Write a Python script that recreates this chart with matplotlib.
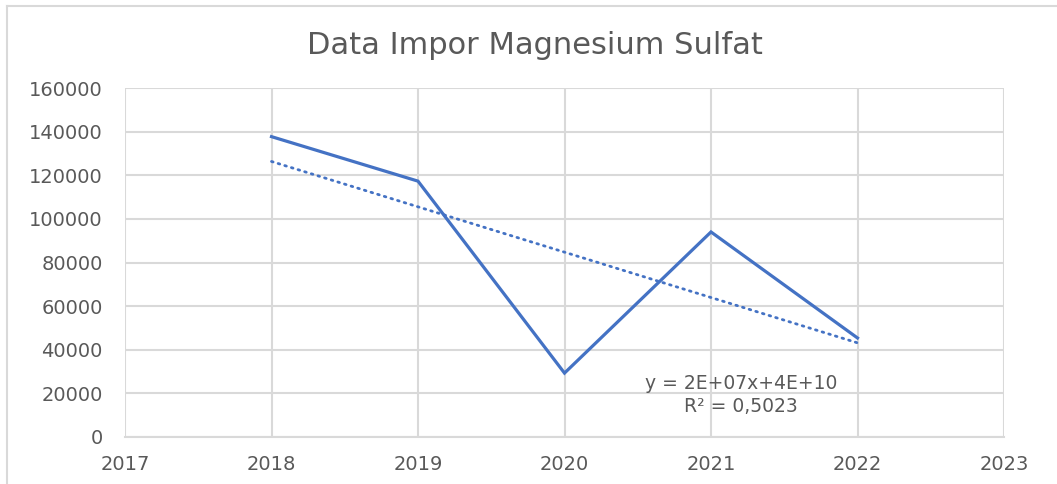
import numpy as np
import matplotlib
matplotlib.use("Agg")
import matplotlib.pyplot as plt
from matplotlib.lines import Line2D

years = [2018, 2019, 2020, 2021, 2022]
impor = [137700, 117300, 29300, 94000, 45400]
x_ticks = [2017, 2018, 2019, 2020, 2021, 2022, 2023]
y_ticks = [0, 20000, 40000, 60000, 80000, 100000, 120000, 140000, 160000]
eq_text = "y = 2E+07x+4E+10\nR² = 0,5023"

plt.rcParams["font.family"] = ["DejaVu Sans"]
GRAY = "#595959"
GRID = "#d9d9d9"
BLUE = "#4472C4"

fig = plt.figure(figsize=(10.57, 4.84), dpi=100)
ax = fig.add_axes([125/1057, 1-437/484, (1004-125)/1057, (437-88)/484])

ax.plot(years, impor, color=BLUE, lw=2.3, solid_joinstyle="miter", zorder=3)

# linear trendline
coef = np.polyfit(years, impor, 1)
trend = np.polyval(coef, years)
ax.plot(years, trend, color=BLUE, lw=2.0, linestyle=(0, (0.6, 1.9)),
        dash_capstyle="round", zorder=3)

ax.set_xlim(2017, 2023)
ax.set_ylim(0, 160000)
ax.set_xticks(x_ticks)
ax.set_yticks(y_ticks)
ax.grid(True, color=GRID, lw=1.5)
ax.set_axisbelow(True)
for s in ["top", "right", "left"]:
    ax.spines[s].set_visible(False)
ax.spines["bottom"].set_color(GRID)
ax.spines["bottom"].set_linewidth(1.5)
ax.tick_params(length=0, colors=GRAY, labelsize=14)
ax.tick_params(axis="x", pad=13)
ax.tick_params(axis="y", pad=16)

ax.text(0.701, 0.12, eq_text, transform=ax.transAxes, ha="center",
        va="center", fontsize=13.5, color=GRAY, linespacing=1.25)

fig.text(0.506, 0.907, "Data Impor Magnesium Sulfat", ha="center",
         va="center", fontsize=22, color=GRAY)

# chart frame (top and left edges visible)
fig.add_artist(Line2D([7/1057, 1], [1-6/484, 1-6/484], color=GRID, lw=1.5,
                      transform=fig.transFigure))
fig.add_artist(Line2D([7/1057, 7/1057], [0, 1-6/484], color=GRID, lw=1.5,
                      transform=fig.transFigure))

fig.savefig("out.png", dpi=100)
